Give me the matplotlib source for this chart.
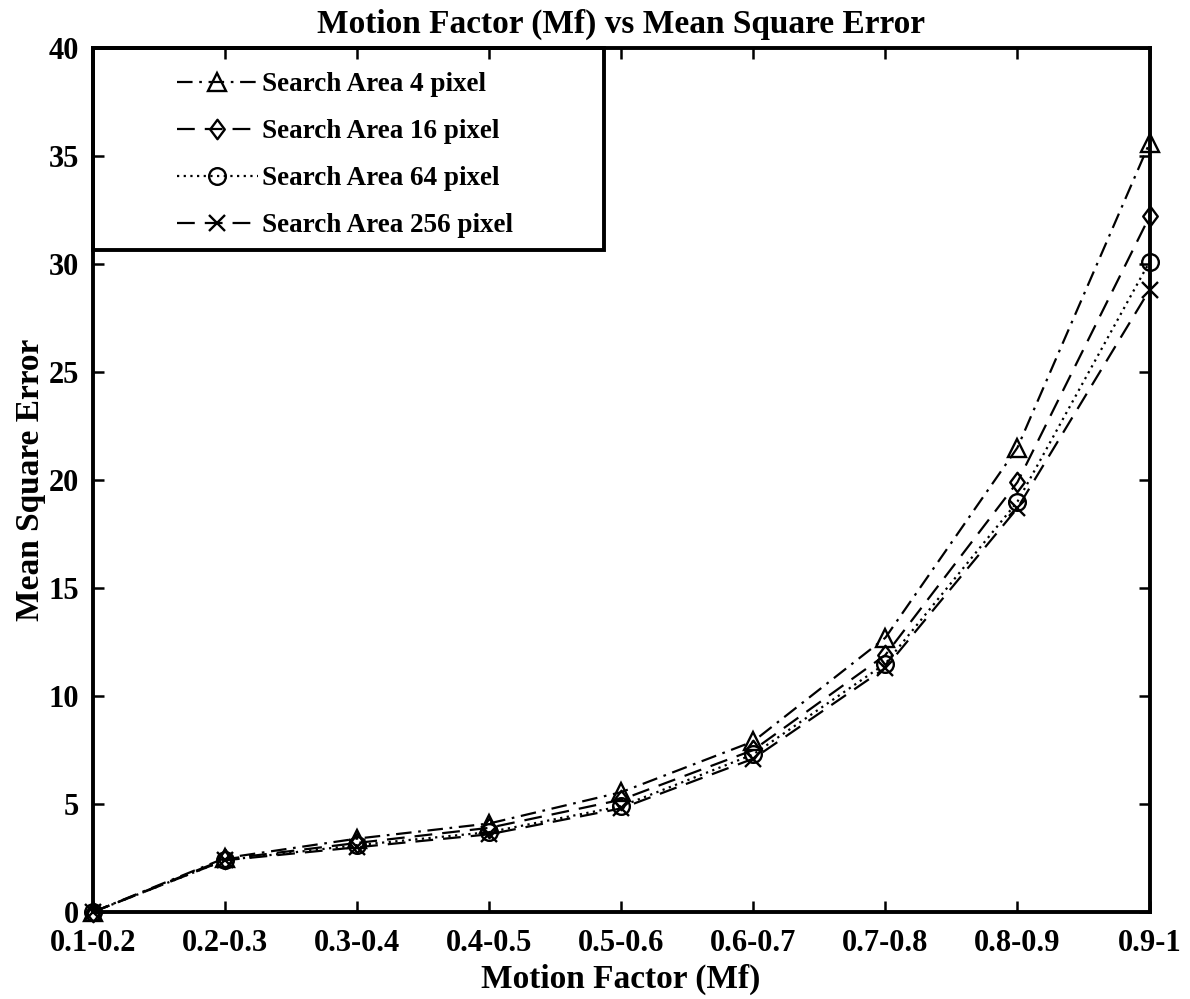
import matplotlib
matplotlib.use("Agg")
import matplotlib.pyplot as plt
from matplotlib.patches import Rectangle
from matplotlib.path import Path

plt.rcParams['font.family'] = ['Liberation Serif', 'DejaVu Serif']
plt.rcParams['font.weight'] = 'bold'

categories = ["0.1-0.2", "0.2-0.3", "0.3-0.4", "0.4-0.5", "0.5-0.6",
              "0.6-0.7", "0.7-0.8", "0.8-0.9", "0.9-1"]
mse_4 = [0.0, 2.5, 3.4, 4.1, 5.55, 7.9, 12.7, 21.5, 35.6]
mse_16 = [0.0, 2.45, 3.2, 3.9, 5.2, 7.5, 11.9, 19.9, 32.2]
mse_64 = [0.0, 2.4, 3.1, 3.7, 4.9, 7.3, 11.5, 19.0, 30.1]
mse_256 = [0.0, 2.4, 3.0, 3.6, 4.8, 7.1, 11.3, 18.7, 28.8]
series_labels = ["Search Area 4 pixel", "Search Area 16 pixel",
                 "Search Area 64 pixel", "Search Area 256 pixel"]
y_ticks = [0, 5, 10, 15, 20, 25, 30, 35, 40]

# slightly tall open diamond
diamond = Path([(0, 1), (0.75, 0), (0, -1), (-0.75, 0), (0, 1)],
               [Path.MOVETO, Path.LINETO, Path.LINETO, Path.LINETO, Path.CLOSEPOLY])

fig = plt.figure(figsize=(11.9, 9.99), dpi=100)
ax = fig.add_axes([0.078, 0.087, 0.888, 0.865])

x = list(range(len(categories)))
styles = [
    dict(linestyle=(0, (7, 3, 1.2, 3)), marker='^', markersize=13),
    dict(linestyle=(0, (8, 4.5)), marker=diamond, markersize=14),
    dict(linestyle=(0, (1, 2)), marker='o', markersize=12),
    dict(linestyle=(0, (8, 4.5)), marker='x', markersize=11),
]
handles = []
for vals, st, lab in zip([mse_4, mse_16, mse_64, mse_256], styles, series_labels):
    kw = dict(color='black', linewidth=1.6, fillstyle='none',
              markeredgewidth=1.7, markeredgecolor='black',
              clip_on=False, zorder=3)
    kw.update(st)
    h, = ax.plot(x, vals, label=lab, **kw)
    handles.append(h)

ax.set_xlim(0, len(categories) - 1)
ax.set_ylim(0, 40)
ax.set_xticks(x)
ax.set_xticklabels(categories)
ax.set_yticks(y_ticks)
ax.tick_params(axis='both', direction='in', length=8, width=1.8,
               labelsize=22, top=True, right=True)
ax.tick_params(axis='x', pad=12)
ax.tick_params(axis='y', pad=10)
for s in ax.spines.values():
    s.set_linewidth(2.8)

ax.set_title("Motion Factor (Mf) vs Mean Square Error", fontsize=24,
             fontweight='bold', pad=11)
ax.set_xlabel("Motion Factor (Mf)", fontsize=24, fontweight='bold', labelpad=4)
ax.set_ylabel("Mean Square Error", fontsize=24, fontweight='bold', labelpad=2)

# legend box frame
ax.add_patch(Rectangle((0, 0.766), 0.4834, 0.234, transform=ax.transAxes,
                       fill=False, edgecolor='black', linewidth=2.8,
                       clip_on=False, zorder=5))
leg = ax.legend(handles=handles, labels=series_labels, loc='upper left',
                bbox_to_anchor=(0.059, 0.997), frameon=False,
                prop={'family': 'Liberation Serif', 'weight': 'bold', 'size': 19.5},
                handlelength=3.0, handletextpad=0.15, labelspacing=0.81,
                borderpad=0.3)

fig.savefig("out.png", dpi=100, facecolor='white')
